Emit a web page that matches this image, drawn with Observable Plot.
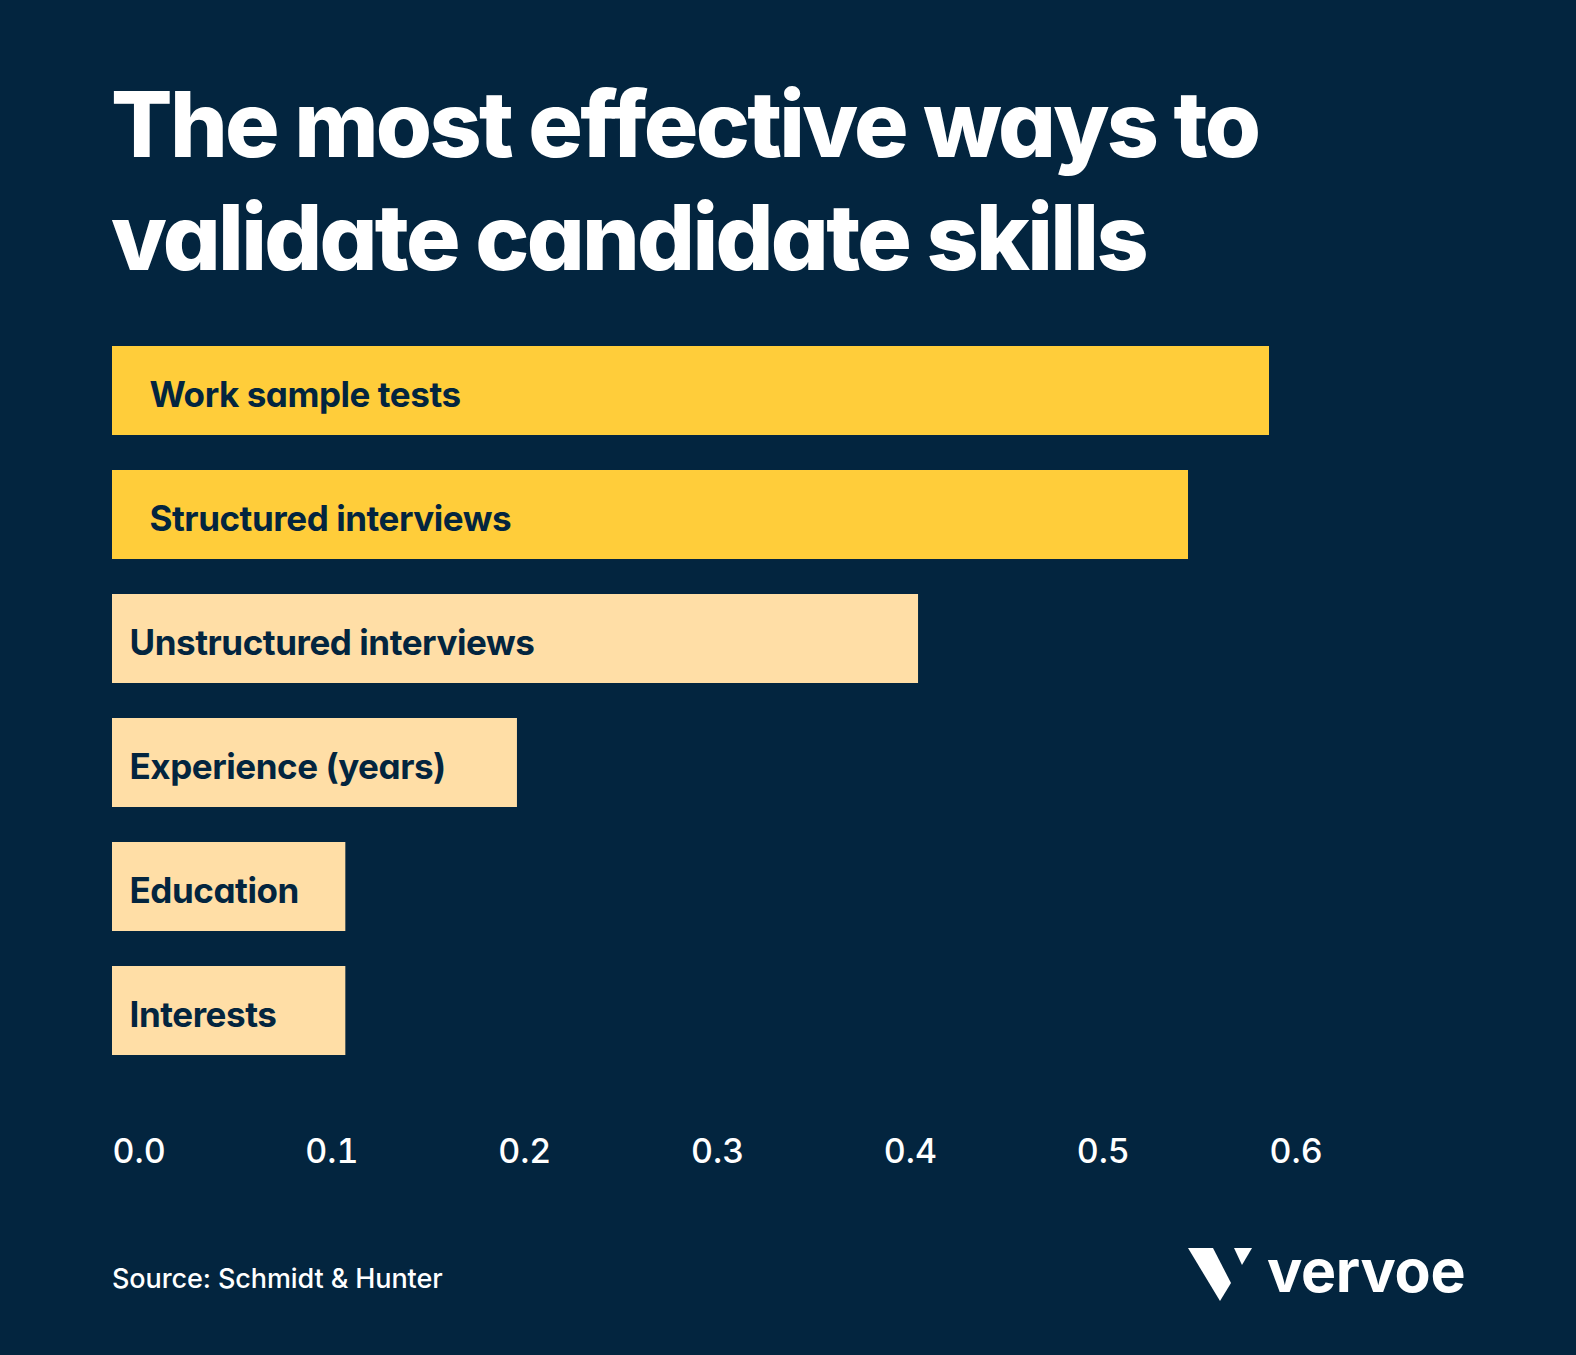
<!DOCTYPE html>
<html>
<head>
<meta charset="utf-8">
<script src="https://cdn.jsdelivr.net/npm/d3@7"></script>
<script src="https://cdn.jsdelivr.net/npm/@observablehq/plot@0.6"></script>
<style>
  html, body { margin: 0; padding: 0; background: #03253F; }
  #wrap { position: relative; width: 1576px; height: 1355px; background: #03253F; overflow: hidden;
          font-family: Inter, "Noto Sans", sans-serif; font-feature-settings: "cv11"; }
  #title { position: absolute; left: 111px; top: 68px; color: #fff; font-weight: 800; font-size: 91px;
           line-height: 113px; letter-spacing: -2.7px; white-space: nowrap; }
  #chart { position: absolute; left: 0; top: 300px; }
  #chart svg text { font-feature-settings: "cv11"; }
  #chart svg g[aria-label="text"] text { letter-spacing: -0.45px; }
  #source { position: absolute; left: 112px; top: 1265px; color: #fff; font-size: 27px; font-weight: 500;
            line-height: 27px; white-space: nowrap; letter-spacing: -0.1px; }
  #logo { position: absolute; left: 1170px; top: 1230px; }
</style>
</head>
<body>
<div id="wrap">
  <div id="title">The most effective ways to<br>validate candidate skills</div>
  <div id="chart"></div>
  <div id="source">Source: Schmidt &amp; Hunter</div>
  <svg id="logo" width="320" height="90" viewBox="0 0 320 90">
    <polygon points="18,18 43,18 61,53 50,71" fill="#fff"/>
    <polygon points="64,18 82,18 72,35" fill="#fff"/>
    <text x="97" y="62" fill="#fff" font-family="Inter" font-weight="700" font-size="59" letter-spacing="-0.3" style="font-feature-settings:'cv11'">vervoe</text>
  </svg>
</div>
<script>
const categories = ["Work sample tests", "Structured interviews", "Unstructured interviews", "Experience (years)", "Education", "Interests"];
const values = [0.60, 0.558, 0.418, 0.21, 0.121, 0.121];
const tiers = ["top", "top", "other", "other", "other", "other"];
const xTicks = [0, 0.1, 0.2, 0.3, 0.4, 0.5, 0.6];

const data = categories.map((c, i) => ({category: c, value: values[i], tier: tiers[i]}));
const BG = "#03253F";

const chart = Plot.plot({
  width: 1576,
  height: 900,
  marginLeft: 112,
  marginRight: 307,
  marginTop: 46,
  marginBottom: 145,
  style: {background: "transparent", fontFamily: "Inter, sans-serif", overflow: "visible"},
  x: {domain: [0, 0.6], axis: null, label: null},
  y: {domain: categories, paddingInner: 0.2823, paddingOuter: 0, axis: null},
  color: {domain: ["top", "other"], range: ["#FFCD3A", "#FFDEA6"]},
  marks: [
    Plot.barX(data, {x: "value", y: "category", fill: "tier"}),
    Plot.text(data.filter(d => d.tier === "top"), {
      x: 0, y: "category", text: "category", textAnchor: "start", dx: 37, dy: 5,
      fill: BG, fontSize: 35, fontWeight: 700
    }),
    Plot.text(data.filter(d => d.tier !== "top"), {
      x: 0, y: "category", text: "category", textAnchor: "start", dx: 17, dy: 5,
      fill: BG, fontSize: 35, fontWeight: 700
    }),
    Plot.axisX({
      ticks: xTicks, tickFormat: d3.format(".1f"), tickSize: 0, tickPadding: 83, label: null,
      textAnchor: "start", fontSize: 34, fontWeight: 500, fill: "#fff", color: "#fff"
    })
  ]
});
document.getElementById("chart").appendChild(chart);
</script>
</body>
</html>
